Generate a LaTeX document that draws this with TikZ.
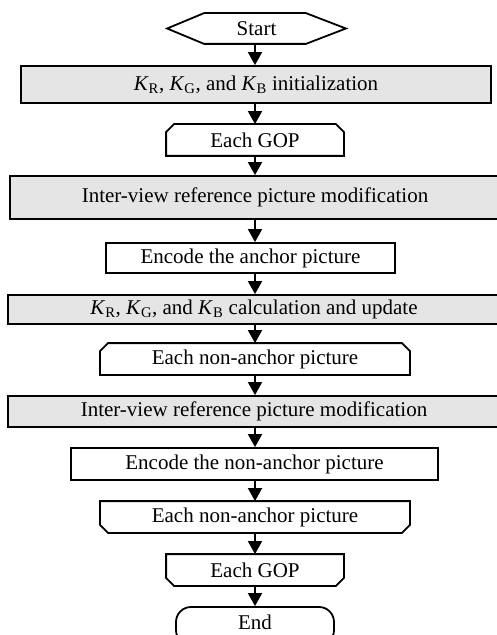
\documentclass[tikz,border=0pt]{standalone}
\usepackage{fontspec}
\setmainfont{Liberation Serif}
\usetikzlibrary{arrows.meta}
\newcommand{\Kc}[1]{\textit{K}\textsubscript{#1}}
\begin{document}
\begin{tikzpicture}[x=1bp,y=-1bp,
 base/.style={inner sep=0pt, font=\fontsize{21bp}{25bp}\selectfont, line width=1.8bp},
 greybox/.style={base, draw, fill=black!10, rectangle},
 whitebox/.style={base, draw, rectangle},
 plainbox/.style={base},
 endbox/.style={base, draw, rounded corners=15bp},
 outline/.style={line width=1.8bp, line join=miter},
 arr/.style={line width=1.8bp, -{Triangle[width=14bp,length=13bp]}}]
\useasboundingbox (0,0) rectangle (497,635);
\clip (0,0) rectangle (497,635);
\coordinate (ax) at (255,0);

\node[plainbox, minimum width=177bp, minimum height=29bp] (start) at (256.5,28.5) {Start};
\draw[outline] (start.west) -- ([xshift=37bp]start.north west) -- ([xshift=-40bp]start.north east)
  -- (start.east) -- ([xshift=-40bp]start.south east) -- ([xshift=37bp]start.south west) -- cycle;

\node[greybox, minimum width=470bp, minimum height=37bp] (init) at (256,84.5)
  {\Kc{R}, \Kc{G}, and \Kc{B} initialization};

\node[plainbox, minimum width=176bp, minimum height=30bp] (gop1) at (255,140) {Each GOP};
\draw[outline] (gop1.south west) -- ([yshift=-8bp]gop1.north west) -- ([xshift=8bp]gop1.north west)
  -- ([xshift=-8bp]gop1.north east) -- ([yshift=-8bp]gop1.north east) -- (gop1.south east) -- cycle;

\node[greybox, minimum width=490bp, minimum height=43bp] (iv1) at (255,197.5)
  {Inter-view reference picture modification};

\node[whitebox, minimum width=289bp, minimum height=30bp] (enc1) at (250.5,258)
  {Encode the anchor picture};

\node[greybox, minimum width=492bp, minimum height=29bp] (kc) at (254,309.5)
  {\Kc{R}, \Kc{G}, and \Kc{B} calculation and update};

\node[plainbox, minimum width=308bp, minimum height=30bp] (na1) at (255,359) {Each non-anchor picture};
\draw[outline] (na1.south west) -- ([yshift=-8bp]na1.north west) -- ([xshift=8bp]na1.north west)
  -- ([xshift=-8bp]na1.north east) -- ([yshift=-8bp]na1.north east) -- (na1.south east) -- cycle;

\node[greybox, minimum width=492bp, minimum height=31bp] (iv2) at (254,411.5)
  {Inter-view reference picture modification};

\node[whitebox, minimum width=367bp, minimum height=32bp] (enc2) at (254.5,464)
  {Encode the non-anchor picture};

\node[plainbox, minimum width=308bp, minimum height=30bp] (na2) at (255,517) {Each non-anchor picture};
\draw[outline] (na2.north west) -- ([yshift=8bp]na2.south west) -- ([xshift=8bp]na2.south west)
  -- ([xshift=-8bp]na2.south east) -- ([yshift=8bp]na2.south east) -- (na2.north east) -- cycle;

\node[plainbox, minimum width=176bp, minimum height=30bp] (gop2) at (255,570) {Each GOP};
\draw[outline] (gop2.north west) -- ([yshift=8bp]gop2.south west) -- ([xshift=8bp]gop2.south west)
  -- ([xshift=-8bp]gop2.south east) -- ([yshift=8bp]gop2.south east) -- (gop2.north east) -- cycle;

\node[endbox, minimum width=158bp, minimum height=38bp, text depth=0pt] (end) at (255,626) {};
\node[base, anchor=base] (endtxt) at (255,629) {End};

\foreach \a/\b in {start/init, init/gop1, gop1/iv1, iv1/enc1, enc1/kc, kc/na1, na1/iv2, iv2/enc2, enc2/na2, na2/gop2, gop2/end}
  \draw[arr] (\a.south -| ax) -- (\b.north -| ax);
\end{tikzpicture}
\end{document}
